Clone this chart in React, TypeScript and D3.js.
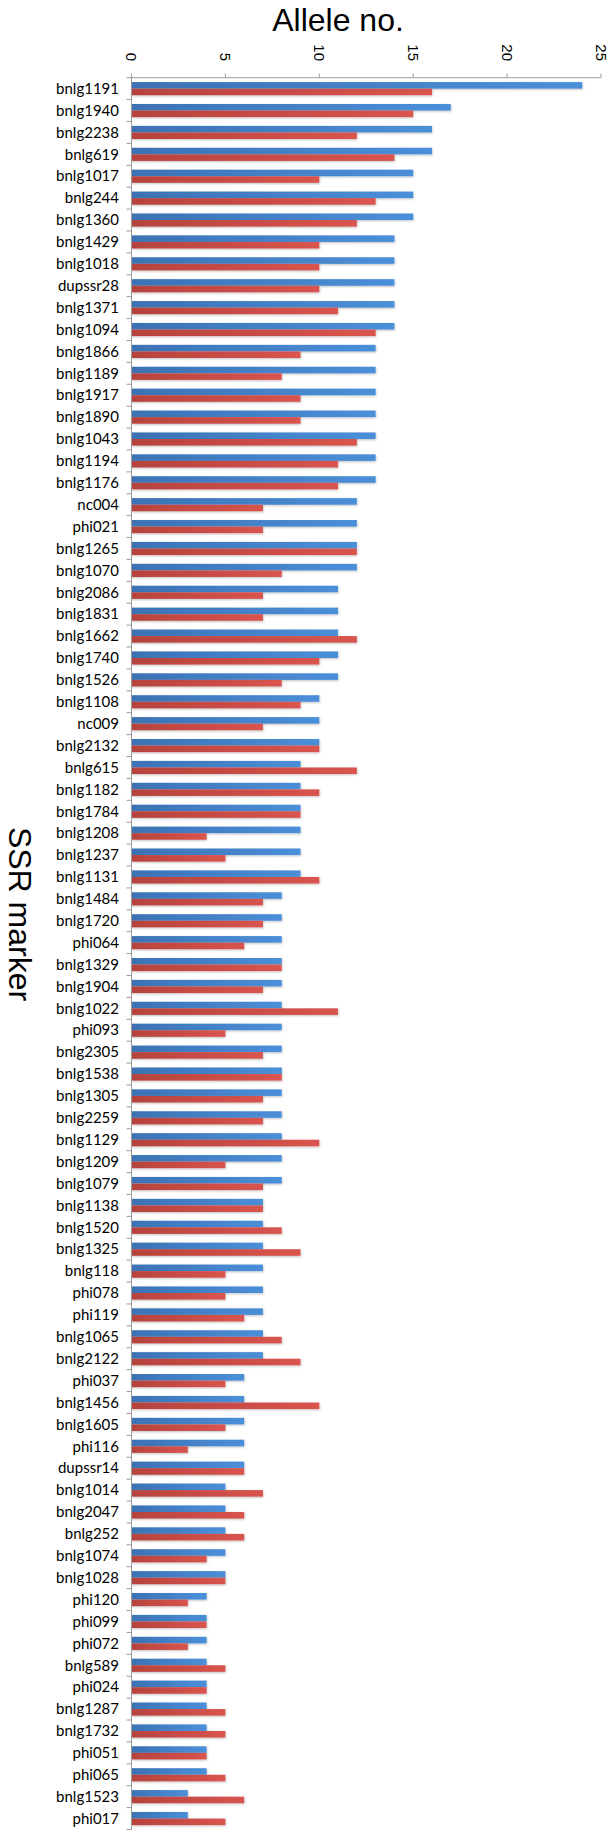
import React from "react";
import * as d3 from "d3";

const categories = ["bnlg1191","bnlg1940","bnlg2238","bnlg619","bnlg1017","bnlg244","bnlg1360","bnlg1429","bnlg1018","dupssr28","bnlg1371","bnlg1094","bnlg1866","bnlg1189","bnlg1917","bnlg1890","bnlg1043","bnlg1194","bnlg1176","nc004","phi021","bnlg1265","bnlg1070","bnlg2086","bnlg1831","bnlg1662","bnlg1740","bnlg1526","bnlg1108","nc009","bnlg2132","bnlg615","bnlg1182","bnlg1784","bnlg1208","bnlg1237","bnlg1131","bnlg1484","bnlg1720","phi064","bnlg1329","bnlg1904","bnlg1022","phi093","bnlg2305","bnlg1538","bnlg1305","bnlg2259","bnlg1129","bnlg1209","bnlg1079","bnlg1138","bnlg1520","bnlg1325","bnlg118","phi078","phi119","bnlg1065","bnlg2122","phi037","bnlg1456","bnlg1605","phi116","dupssr14","bnlg1014","bnlg2047","bnlg252","bnlg1074","bnlg1028","phi120","phi099","phi072","bnlg589","phi024","bnlg1287","bnlg1732","phi051","phi065","bnlg1523","phi017"];

const blueValues = [24,17,16,16,15,15,15,14,14,14,14,14,13,13,13,13,13,13,13,12,12,12,12,11,11,11,11,11,10,10,10,9,9,9,9,9,9,8,8,8,8,8,8,8,8,8,8,8,8,8,8,7,7,7,7,7,7,7,7,6,6,6,6,6,5,5,5,5,5,4,4,4,4,4,4,4,4,4,3,3];

const redValues = [16,15,12,14,10,13,12,10,10,10,11,13,9,8,9,9,12,11,11,7,7,12,8,7,7,12,10,8,9,7,10,12,10,9,4,5,10,7,7,6,8,7,11,5,7,8,7,7,10,5,7,7,8,9,5,5,6,8,9,5,10,5,3,6,7,6,6,4,5,3,4,3,5,4,5,5,4,5,6,5];

const xTicks = [0, 5, 10, 15, 20, 25];

const W = 612;
const H = 1837;
const left = 131.5;
const right = 601;
const top = 77.7;
const bottom = 1829.5;

export default function App() {
  const x = d3.scaleLinear().domain([0, 25]).range([left, right]);
  const y = d3.scaleBand<string>().domain(categories).range([top, bottom]).paddingInner(0.4).paddingOuter(0.2);
  const sub = d3.scaleBand<string>().domain(["blue", "red"]).range([0, y.bandwidth()]);
  const step = y.step();
  const axisColor = "#9a9a9a";

  return (
    <svg width={W} height={H} style={{ position: "absolute", left: 0, top: 0, background: "#fff" }}>
      <defs>
        <linearGradient id="gBlue" x1="0" x2="1" y1="0" y2="0">
          <stop offset="0" stopColor="#3b72b4" />
          <stop offset="1" stopColor="#4b8fd9" />
        </linearGradient>
        <linearGradient id="gRed" x1="0" x2="1" y1="0" y2="0">
          <stop offset="0" stopColor="#b6433d" />
          <stop offset="1" stopColor="#d9544e" />
        </linearGradient>
        <filter id="shadow" x="-10%" y="-50%" width="120%" height="250%">
          <feDropShadow dx="0.5" dy="1" stdDeviation="1.2" floodColor="#000" floodOpacity="0.25" />
        </filter>
      </defs>

      <text x={338} y={31} textAnchor="middle" fontFamily="Liberation Sans, Arial, sans-serif" fontSize={32} fill="#000">Allele no.</text>

      <text transform={`translate(9, 914) rotate(90)`} textAnchor="middle" fontFamily="Liberation Sans, Arial, sans-serif" fontSize={32} fill="#000">SSR marker</text>

      {/* bars */}
      {categories.map((c, i) => {
        const y0 = y(c)!;
        return (
          <g key={c} filter="url(#shadow)">
            <rect x={x(0)} y={y0 + sub("blue")!} width={x(blueValues[i]) - x(0)} height={sub.bandwidth()} fill="url(#gBlue)" />
            <rect x={x(0)} y={y0 + sub("red")!} width={x(redValues[i]) - x(0)} height={sub.bandwidth()} fill="url(#gRed)" />
          </g>
        );
      })}

      {/* top axis */}
      <line x1={x(0)} x2={x(25)} y1={top} y2={top} stroke={axisColor} strokeWidth={1} />
      {xTicks.map((t) => (
        <g key={t}>
          <line x1={x(t)} x2={x(t)} y1={top} y2={top - 4} stroke={axisColor} strokeWidth={1} />
          <text transform={`translate(${x(t)}, 61) rotate(90)`} textAnchor="end" dy="0.35em" fontFamily="Liberation Sans, Arial, sans-serif" fontSize={15} fill="#000">{t}</text>
        </g>
      ))}

      {/* left axis */}
      <line x1={left} x2={left} y1={top} y2={bottom} stroke={axisColor} strokeWidth={1} />
      {categories.map((c, i) => (
        <line key={"t" + c} x1={left - 5} x2={left} y1={top + i * step} y2={top + i * step} stroke={axisColor} strokeWidth={1} />
      ))}
      <line x1={left - 5} x2={left} y1={bottom} y2={bottom} stroke={axisColor} strokeWidth={1} />
      {categories.map((c) => (
        <text key={"l" + c} x={119} y={y(c)! + y.bandwidth() / 2} dy="0.35em" textAnchor="end" fontFamily="Lato, 'Open Sans', sans-serif" fontSize={15} fill="#000">{c}</text>
      ))}
    </svg>
  );
}
